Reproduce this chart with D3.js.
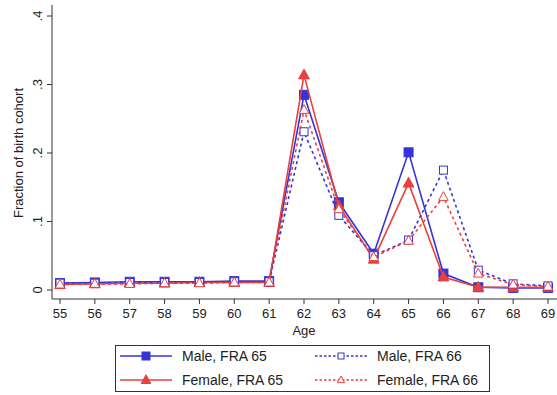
<!DOCTYPE html>
<html>
<head>
<meta charset="utf-8">
<script src="https://cdn.jsdelivr.net/npm/d3@7"></script>
<style>
  body { margin: 0; background: #fff; }
  svg { font-family: "Liberation Sans", Arial, sans-serif; }
</style>
</head>
<body>
<svg id="chart" width="557" height="395"></svg>
<script>
// --- DATA ---
const ages = [55, 56, 57, 58, 59, 60, 61, 62, 63, 64, 65, 66, 67, 68, 69];
const maleFra65   = [0.010, 0.011, 0.012, 0.012, 0.012, 0.013, 0.013, 0.285, 0.128, 0.053, 0.201, 0.024, 0.004, 0.003, 0.003];
const femaleFra65 = [0.008, 0.009, 0.010, 0.010, 0.011, 0.011, 0.011, 0.314, 0.123, 0.045, 0.156, 0.019, 0.004, 0.004, 0.004];
const maleFra66   = [0.010, 0.010, 0.011, 0.011, 0.011, 0.012, 0.012, 0.231, 0.109, 0.050, 0.073, 0.175, 0.029, 0.009, 0.006];
const femaleFra66 = [0.008, 0.009, 0.009, 0.010, 0.010, 0.011, 0.011, 0.263, 0.118, 0.048, 0.072, 0.136, 0.024, 0.008, 0.005];
const yTicks = [0, 0.1, 0.2, 0.3, 0.4];
const yTickLabels = ["0", ".1", ".2", ".3", ".4"];

const blue = "#3434d8";
const red = "#e8403c";

const series = [
  { name: "Male, FRA 65",   values: maleFra65,   color: blue, dash: null, marker: "square",   filled: true },
  { name: "Female, FRA 65", values: femaleFra65, color: red,  dash: null, marker: "triangle", filled: true },
  { name: "Male, FRA 66",   values: maleFra66,   color: blue, dash: "3,3", marker: "square",   filled: false },
  { name: "Female, FRA 66", values: femaleFra66, color: red,  dash: "3,3", marker: "triangle", filled: false }
];

// --- SETUP ---
const svg = d3.select("#chart");
const plotLeft = 52, plotRight = 557, plotBottom = 299;

const x = d3.scaleLinear().domain([55, 69]).range([60, 548]);
const y = d3.scaleLinear().domain([0, 0.4]).range([290, 16]);

// axes
const yAxis = svg.append("g").attr("transform", `translate(${plotLeft},0)`);
yAxis.append("line").attr("x1", 0).attr("x2", 0).attr("y1", 5).attr("y2", plotBottom)
  .attr("stroke", "#333").attr("stroke-width", 1);
yTicks.forEach((t, i) => {
  yAxis.append("line").attr("x1", -5).attr("x2", 0).attr("y1", y(t)).attr("y2", y(t))
    .attr("stroke", "#333");
  yAxis.append("text")
    .attr("transform", `translate(-10,${y(t)}) rotate(-90)`)
    .attr("text-anchor", "middle")
    .attr("font-size", 13).attr("fill", "#222")
    .text(yTickLabels[i]);
});

const xAxis = svg.append("g").attr("transform", `translate(0,${plotBottom})`);
xAxis.append("line").attr("x1", plotLeft).attr("x2", plotRight).attr("y1", 0).attr("y2", 0)
  .attr("stroke", "#333");
ages.forEach(a => {
  xAxis.append("line").attr("x1", x(a)).attr("x2", x(a)).attr("y1", 0).attr("y2", 5)
    .attr("stroke", "#333");
  xAxis.append("text").attr("x", x(a)).attr("y", 19)
    .attr("text-anchor", "middle").attr("font-size", 13).attr("fill", "#222")
    .text(a);
});

// axis titles
svg.append("text").attr("x", x(62)).attr("y", 335)
  .attr("text-anchor", "middle").attr("font-size", 13).attr("fill", "#222").text("Age");
svg.append("text")
  .attr("transform", `translate(23,${y(0.2)}) rotate(-90)`)
  .attr("text-anchor", "middle").attr("font-size", 13).attr("fill", "#222")
  .text("Fraction of birth cohort");

// markers
function drawMarker(g, s, cx, cy, size) {
  const fill = s.filled ? s.color : "#fff";
  if (s.marker === "square") {
    g.append("rect").attr("x", cx - size / 2).attr("y", cy - size / 2)
      .attr("width", size).attr("height", size)
      .attr("fill", fill).attr("stroke", s.color).attr("stroke-width", 1);
  } else {
    const h = size * 1.05;
    g.append("path")
      .attr("d", `M${cx},${cy - h * 0.62} L${cx + size * 0.6},${cy + h * 0.42} L${cx - size * 0.6},${cy + h * 0.42} Z`)
      .attr("fill", fill).attr("stroke", s.color).attr("stroke-width", 1);
  }
}

const line = d3.line().x((d, i) => x(ages[i])).y(d => y(d));
const plot = svg.append("g");

series.forEach(s => {
  plot.append("path").datum(s.values)
    .attr("d", line)
    .attr("fill", "none")
    .attr("stroke", s.color)
    .attr("stroke-width", 1.6)
    .attr("stroke-dasharray", s.dash);
  const mg = plot.append("g");
  s.values.forEach((v, i) => drawMarker(mg, s, x(ages[i]), y(v), s.filled ? 9 : 8));
});

// legend
const legend = svg.append("g");
legend.append("rect").attr("x", 115.5).attr("y", 345.5).attr("width", 374).attr("height", 46)
  .attr("fill", "#fff").attr("stroke", "#333").attr("stroke-width", 1);
const legendPos = [
  { lx: 120, ly: 356 }, { lx: 120, ly: 380 },
  { lx: 315, ly: 356 }, { lx: 315, ly: 380 }
];
series.forEach((s, i) => {
  const p = legendPos[i];
  legend.append("line").attr("x1", p.lx).attr("x2", p.lx + 52)
    .attr("y1", p.ly).attr("y2", p.ly)
    .attr("stroke", s.color).attr("stroke-width", 1.4)
    .attr("stroke-dasharray", s.dash ? "2.5,2" : null);
  drawMarker(legend, s, p.lx + 26, p.ly, s.filled ? 8 : 6);
  legend.append("text").attr("x", p.lx + 62).attr("y", p.ly + 5)
    .attr("font-size", 14).attr("fill", "#222").text(s.name);
});
</script>
</body>
</html>
